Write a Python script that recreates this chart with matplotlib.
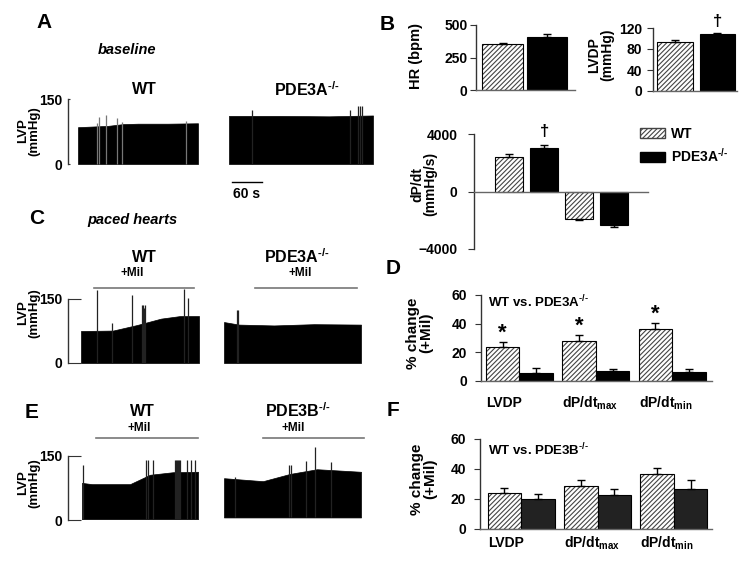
import numpy as np
import matplotlib
matplotlib.use('Agg')
import matplotlib.pyplot as plt
from matplotlib.patches import Patch

plt.rcParams['font.family'] = 'Liberation Sans'
plt.rcParams['font.weight'] = 'bold'
plt.rcParams['mathtext.fontset'] = 'custom'
plt.rcParams['mathtext.rm'] = 'Liberation Sans:bold'
plt.rcParams['mathtext.bf'] = 'Liberation Sans:bold'
plt.rcParams['mathtext.it'] = 'Liberation Sans:bold:italic'
plt.rcParams['hatch.linewidth'] = 0.8
plt.rcParams['axes.linewidth'] = 1.0

W, H = 750, 563
KO = r'$^{\text{-/-}}$'

# ---- LV pressure traces: time (s) of envelope points, upper envelope (mmHg), spikes
a_wt_t = [0, 60, 90, 120, 180, 240]
a_wt_top = [85, 88, 92, 93, 93, 94]
a_wt_spk_t = [38, 42, 56, 78, 88, 216]
a_wt_spk_v = [95, 108, 113, 106, 97, 99]

a_ko_t = [0, 100, 200, 288]
a_ko_top = [111, 111, 110, 112]
a_ko_spk_t = [46, 242, 258, 262, 266]
a_ko_spk_v = [125, 125, 134, 134, 134]

c_wt_t = [0, 64, 112, 160, 198, 236]
c_wt_top = [75, 76, 89, 104, 110, 110]
c_wt_spk_t = [32, 62, 102, 122, 124, 126, 128, 206, 214]
c_wt_spk_v = [171, 94, 159, 136, 136, 130, 136, 173, 152]

c_ko_t = [0, 30, 100, 180, 274]
c_ko_top = [96, 90, 88, 91, 90]
c_ko_spk_t = [26, 28]
c_ko_spk_v = [124, 124]

e_wt_t = [0, 20, 96, 136, 182, 232]
e_wt_top = [87, 84, 84, 106, 112, 113]
e_wt_spk_t = [2, 128, 132, 142, 186, 188, 190, 192, 194, 196, 210, 218, 226]
e_wt_spk_v = [129, 141, 141, 141, 141, 141, 141, 141, 141, 141, 141, 141, 141]

e_ko_t = [0, 78, 132, 186, 274]
e_ko_top = [98, 91, 108, 119, 113]
e_ko_spk_t = [22, 130, 134, 164, 182, 214]
e_ko_spk_v = [100, 129, 129, 138, 171, 136]

# ---- bar data
hr_vals = [354, 408]
hr_err = [10, 22]
lvdp_vals = [93, 108]
lvdp_err = [5, 2]
dpdt_vals = [2430, 3060, -1880, -2300]
dpdt_err = [200, 200, 80, 200]

groups = ['LVDP', r'dP/dt$_{\mathrm{max}}$', r'dP/dt$_{\mathrm{min}}$']
d_wt = [23.7, 28, 36]
d_wt_err = [3.5, 4.2, 4.4]
d_ko = [5.6, 7, 6]
d_ko_err = [3.3, 1.5, 2.5]
f_wt = [24, 28.5, 36.5]
f_wt_err = [3.5, 4.2, 4.5]
f_ko = [19.8, 23, 26.5]
f_ko_err = [3.3, 4, 6.2]

fig = plt.figure(figsize=(7.5, 5.63), dpi=100)


def ftext(px, py, s, **kw):
    kw.setdefault('ha', 'center')
    kw.setdefault('va', 'center')
    fig.text(px / W, 1 - py / H, s, **kw)


def trace_axes(px0, px150, ylim, ticklen):
    sc = (px0 - px150) / 150
    y_lo = px0 - ylim[0] * sc
    y_hi = px0 - ylim[1] * sc
    ax = fig.add_axes([68 / W, 1 - y_lo / H, (380 - 68) / W, (y_lo - y_hi) / H])
    ax.set_xlim(0, 624)
    ax.set_ylim(*ylim)
    for s in ['top', 'right', 'bottom']:
        ax.spines[s].set_visible(False)
    ax.spines['left'].set_bounds(0, 150)
    ax.spines['left'].set_color('#333')
    ax.set_yticks([0, 150])
    ax.set_xticks([])
    ax.patch.set_alpha(0)
    ax.tick_params(axis='y', direction='in', length=ticklen, labelsize=10, pad=4, color='#333')
    return ax


def trace(ax, t0, t, top, bottom, spk_t, spk_v, spk_color='#222'):
    tt = np.asarray(t, float) + t0
    ax.fill_between(tt, bottom, top, color='black', lw=0.5)
    ax.vlines(np.asarray(spk_t, float) + t0, bottom, spk_v, color=spk_color, lw=0.9)


def bar_axes(x0, x1, py_lo, py_hi, pad):
    ax = fig.add_axes([x0 / W, 1 - py_lo / H, (x1 - x0) / W, (py_lo - py_hi) / H])
    for s in ['top', 'right']:
        ax.spines[s].set_visible(False)
    ax.spines['left'].set_color('#333')
    ax.spines['bottom'].set_color('#666')
    ax.set_xticks([])
    ax.tick_params(axis='y', direction='out', length=4, labelsize=10, pad=pad, color='#333')
    return ax


def bars(ax, x, h, w, err, hatch, color='black'):
    x = np.asarray(x, float)
    h = np.asarray(h, float)
    err = np.asarray(err, float)
    if hatch:
        ax.bar(x, h, w, color='white', edgecolor='#444', hatch='///////', lw=0)
        ax.bar(x, h, w, fill=False, edgecolor='black', lw=0.8)
    else:
        ax.bar(x, h, w, color=color, edgecolor='black', lw=0.8)
    lower = np.where(h < 0, err, 0)
    upper = np.where(h >= 0, err, 0)
    ax.errorbar(x, h, yerr=[lower, upper], fmt='none', ecolor='black',
                elinewidth=1, capsize=3, capthick=1, zorder=1)


# ================= Panel A
ax = trace_axes(164, 99, (-10, 160), 1.5)
trace(ax, 20, a_wt_t, a_wt_top, 0, a_wt_spk_t, a_wt_spk_v, spk_color='#777')
trace(ax, 322, a_ko_t, a_ko_top, 0, a_ko_spk_t, a_ko_spk_v)
ax.plot([328, 388], [-41.5, -41.5], color='black', lw=1, clip_on=False)
ftext(247, 194, '60 s', size=10)
ftext(44, 22, 'A', size=15)
ftext(127, 50, 'baseline', style='italic', size=10.5)
ftext(144, 90, 'WT', size=11.5)
ftext(307, 90, 'PDE3A' + KO, size=11.5)
ftext(29, 131, 'LVP\n(mmHg)', rotation=90, size=9.5, linespacing=0.95)

# ================= Panel C
ax = trace_axes(363, 299, (-10, 200), 9)
trace(ax, 26, c_wt_t, c_wt_top, 0, c_wt_spk_t, c_wt_spk_v)
trace(ax, 312, c_ko_t, c_ko_top, 0, c_ko_spk_t, c_ko_spk_v)
ax.plot([52, 252], [176, 176], color='#777', lw=1.2)
ax.plot([374, 578], [176, 176], color='#777', lw=1.2)
ftext(37, 218, 'C', size=15)
ftext(132, 220, 'paced hearts', style='italic', size=10.5)
ftext(144, 258, 'WT', size=11.5)
ftext(132, 273, '+Mil', size=8.5)
ftext(297, 257, 'PDE3A' + KO, size=11.5)
ftext(300, 273, '+Mil', size=8.5)
ftext(29, 313, 'LVP\n(mmHg)', rotation=90, size=9.5, linespacing=0.95)

# ================= Panel E
ax = trace_axes(520, 456, (-10, 200), 9)
trace(ax, 28, e_wt_t, e_wt_top, 2, e_wt_spk_t, e_wt_spk_v)
trace(ax, 312, e_ko_t, e_ko_top, 6, e_ko_spk_t, e_ko_spk_v)
ax.plot([56, 260], [192, 192], color='#777', lw=1.2)
ax.plot([390, 592], [192, 192], color='#777', lw=1.2)
ftext(32, 412, 'E', size=15)
ftext(142, 411, 'WT', size=11.5)
ftext(139, 428, '+Mil', size=8.5)
ftext(298, 411, 'PDE3B' + KO, size=11.5)
ftext(293, 428, '+Mil', size=8.5)
ftext(29, 483, 'LVP\n(mmHg)', rotation=90, size=9.5, linespacing=0.95)

# ================= Panel B
ax = bar_axes(476, 575, 90, 25, 2)
ax.set_xlim(-0.596, 1.63)
ax.set_ylim(0, 500)
ax.set_yticks([0, 250, 500])
bars(ax, [0], hr_vals[:1], 0.92, hr_err[:1], True)
bars(ax, [1], hr_vals[1:], 0.92, hr_err[1:], False)
ftext(387, 25, 'B', size=15)
ftext(416, 56, 'HR (bpm)', rotation=90, size=10.5)

ax = bar_axes(653, 737, 91, 28, 4)
ax.set_xlim(-0.518, 1.46)
ax.set_ylim(0, 120)
ax.set_yticks([0, 40, 80, 120])
bars(ax, [0], lvdp_vals[:1], 0.84, lvdp_err[:1], True)
bars(ax, [1], lvdp_vals[1:], 0.84, lvdp_err[1:], False)
ax.text(1, 132, '\u2020', ha='center', va='center', size=12, clip_on=False)
ftext(601, 55, 'LVDP\n(mmHg)', rotation=90, size=10, linespacing=0.95)

ax = bar_axes(474, 648, 249, 134, 8)
ax.set_xlim(-1.0, 3.96)
ax.set_ylim(-4000, 4000)
ax.set_yticks([-4000, 0, 4000])
ax.spines['bottom'].set_position(('data', 0))
bars(ax, [0, 2], dpdt_vals[0::2], 0.8, dpdt_err[0::2], True)
bars(ax, [1, 3], dpdt_vals[1::2], 0.8, dpdt_err[1::2], False)
ax.text(1, 4200, '\u2020', ha='center', va='center', size=12, clip_on=False)
ftext(424, 184, 'dP/dt\n(mmHg/s)', rotation=90, size=10, linespacing=0.95)
ax.legend(handles=[Patch(facecolor='white', edgecolor='#444', hatch='///////'),
                   Patch(facecolor='black', edgecolor='black')],
          labels=['WT', 'PDE3A' + KO], loc='upper left',
          bbox_to_anchor=(640 / W, 1 - 127 / H), bbox_transform=fig.transFigure,
          frameon=False, fontsize=10, handlelength=1.8, handleheight=0.75,
          labelspacing=0.4, borderpad=0, borderaxespad=0, handletextpad=0.4)

# ================= Panels D and F
xg = np.arange(3)
bw = 0.44
for (x0, py_lo, py_hi, xl, wt, wt_err, ko, ko_err, ko_col, title, ty, letter, ly, lab_y, ypx) in [
        (481, 381, 295, (-0.503, 2.52), d_wt, d_wt_err, d_ko, d_ko_err, 'black',
         'WT vs. PDE3A' + KO, 302, 'D', 268, -0.256, 420),
        (480, 529, 439, (-0.54, 2.50), f_wt, f_wt_err, f_ko, f_ko_err, '#222',
         'WT vs. PDE3B' + KO, 450, 'F', 410, -0.156, 424)]:
    ax = bar_axes(x0, 712, py_lo, py_hi, 6)
    ax.set_xlim(*xl)
    ax.set_ylim(0, 60)
    ax.set_yticks([0, 20, 40, 60])
    bars(ax, xg - bw / 2, wt, bw, wt_err, True)
    bars(ax, xg + bw / 2, ko, bw, ko_err, False, color=ko_col)
    for g, lab in zip(xg, groups):
        ax.text(g - bw, lab_y, lab, transform=ax.get_xaxis_transform(),
                ha='left', va='center', size=10)
    ftext(488, ty, title, ha='left', size=9.5)
    ftext(393, ly, letter, size=15)
    ftext(ypx, (py_lo + py_hi) / 2 - 5, '% change\n(+Mil)', rotation=90, size=11, linespacing=0.95)
    if letter == 'D':
        for g, v, e in zip(xg, wt, wt_err):
            ax.text(g - bw / 2, v + e + 6, '*', ha='center', va='center', size=16)

fig.savefig('out.png', dpi=100)
